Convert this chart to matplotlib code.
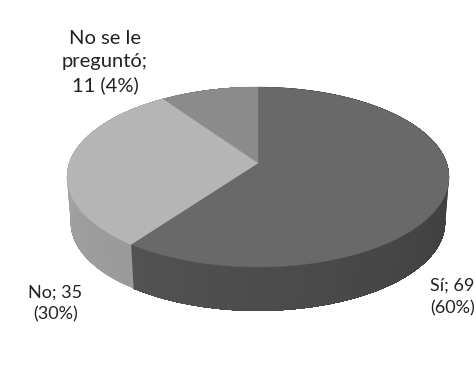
import numpy as np
import matplotlib
matplotlib.use('Agg')
import matplotlib.pyplot as plt

categories = ['Sí', 'No', 'No se le preguntó']
values = [69, 35, 11]
top_colors = ['#696969', '#b5b5b5', '#8b8b8b']
side_from = ['#2e2e2e', '#9a9a9a', '#7a7a7a']
side_to = ['#525252', '#ababab', '#7a7a7a']

labels = ['Sí; 69\n(60%)', 'No; 35\n(30%)', 'No se le\npreguntó;\n11 (4%)']

W, H = 477, 387
cx, cy = 258, 163      # apex of the pie, in pixels
rad_x, rad_y = 188.7, 87.8
persp = 0.1556
depth = 46
shrink = 0.98


def rim(f, lower=False):
    # f = fraction of the circle clockwise from the top, tilted with perspective
    t = 2 * np.pi * np.asarray(f)
    X, Y = np.sin(t), np.cos(t)
    w = 1 + persp * Y
    u, v = rad_x * X / w, rad_y * Y / w
    if lower:
        return cx + shrink * u, cy - shrink * v + depth
    return cx + u, cy - v


fig = plt.figure(figsize=(W / 100, H / 100), dpi=100)
ax = fig.add_axes([0, 0, 1, 1])
ax.set_xlim(0, W)
ax.set_ylim(H, 0)
ax.axis('off')

edges = np.concatenate([[0], np.cumsum(values)]) / sum(values)


def grey(c):
    return np.array(matplotlib.colors.to_rgb(c))


# outer wall first, the top covers whatever is at the back
# each piece runs to the end of the slice so no seams show between pieces
for i in range(len(values)):
    steps = np.linspace(edges[i], edges[i + 1], 60)
    for j in range(len(steps) - 1):
        part = steps[j:]
        x1, y1 = rim(part)
        x2, y2 = rim(part, lower=True)
        k = j / (len(steps) - 2)
        col = grey(side_from[i]) * (1 - k) + grey(side_to[i]) * k
        ax.fill(np.r_[x1, x2[::-1]], np.r_[y1, y2[::-1]], color=col, lw=0)

for i in range(len(values)):
    x, y = rim(np.linspace(edges[i], edges[i + 1], 150))
    ax.fill(np.r_[cx, x], np.r_[cy, y], color=top_colors[i], lw=0.3)

font = dict(family='Lato', color='#222222', ha='center', va='center')
ax.text(452.5, 297, labels[0], fontsize=13, linespacing=1.45, **font)
ax.text(55.5, 303.5, labels[1], fontsize=13, linespacing=1.45, **font)
ax.text(105, 62, labels[2], fontsize=14.5, linespacing=1.45, **font)

fig.savefig('out.png', dpi=100, facecolor='white')
